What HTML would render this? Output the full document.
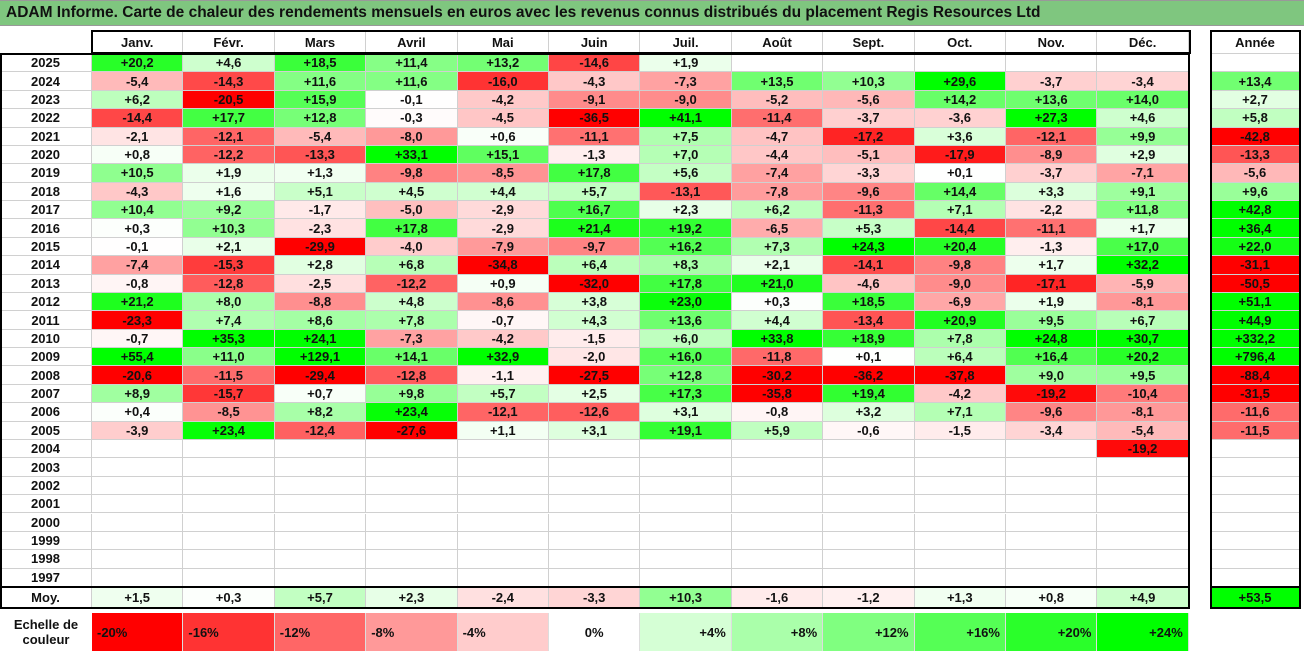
<!DOCTYPE html>
<html><head><meta charset="utf-8"><style>
body{margin:0;width:1304px;height:652px;background:#fff;font-family:"Liberation Sans",sans-serif;overflow:hidden;position:relative}
.c{position:absolute;box-sizing:border-box;font-weight:bold;font-size:13px;color:#111;display:flex;align-items:center;justify-content:center;border-right:1px solid #d0d0d0;border-bottom:1px solid #d0d0d0}
#title{position:absolute;left:0;top:0;width:1304px;height:26px;background:#7fc67f;border-top:1px solid #999;border-bottom:1px solid #999;box-sizing:border-box;font-weight:bold;font-size:15.5px;line-height:24px;padding-left:6px;color:#111}
.box{position:absolute;border:2px solid #000;box-sizing:border-box;pointer-events:none}
</style></head><body>
<div id="title">ADAM Informe. Carte de chaleur des rendements mensuels en euros avec les revenus connus distribués du placement Regis Resources Ltd</div>
<div id="grid"></div>
<script>
const months=["Janv.","Févr.","Mars","Avril","Mai","Juin","Juil.","Août","Sept.","Oct.","Nov.","Déc."];
const years=[2025,2024,2023,2022,2021,2020,2019,2018,2017,2016,2015,2014,2013,2012,2011,2010,2009,2008,2007,2006,2005,2004,2003,2002,2001,2000,1999,1998,1997];
const N=null;
const monthly=[
[20.2,4.6,18.5,11.4,13.2,-14.6,1.9,N,N,N,N,N],
[-5.4,-14.3,11.6,11.6,-16.0,-4.3,-7.3,13.5,10.3,29.6,-3.7,-3.4],
[6.2,-20.5,15.9,-0.1,-4.2,-9.1,-9.0,-5.2,-5.6,14.2,13.6,14.0],
[-14.4,17.7,12.8,-0.3,-4.5,-36.5,41.1,-11.4,-3.7,-3.6,27.3,4.6],
[-2.1,-12.1,-5.4,-8.0,0.6,-11.1,7.5,-4.7,-17.2,3.6,-12.1,9.9],
[0.8,-12.2,-13.3,33.1,15.1,-1.3,7.0,-4.4,-5.1,-17.9,-8.9,2.9],
[10.5,1.9,1.3,-9.8,-8.5,17.8,5.6,-7.4,-3.3,0.1,-3.7,-7.1],
[-4.3,1.6,5.1,4.5,4.4,5.7,-13.1,-7.8,-9.6,14.4,3.3,9.1],
[10.4,9.2,-1.7,-5.0,-2.9,16.7,2.3,6.2,-11.3,7.1,-2.2,11.8],
[0.3,10.3,-2.3,17.8,-2.9,21.4,19.2,-6.5,5.3,-14.4,-11.1,1.7],
[-0.1,2.1,-29.9,-4.0,-7.9,-9.7,16.2,7.3,24.3,20.4,-1.3,17.0],
[-7.4,-15.3,2.8,6.8,-34.8,6.4,8.3,2.1,-14.1,-9.8,1.7,32.2],
[-0.8,-12.8,-2.5,-12.2,0.9,-32.0,17.8,21.0,-4.6,-9.0,-17.1,-5.9],
[21.2,8.0,-8.8,4.8,-8.6,3.8,23.0,0.3,18.5,-6.9,1.9,-8.1],
[-23.3,7.4,8.6,7.8,-0.7,4.3,13.6,4.4,-13.4,20.9,9.5,6.7],
[-0.7,35.3,24.1,-7.3,-4.2,-1.5,6.0,33.8,18.9,7.8,24.8,30.7],
[55.4,11.0,129.1,14.1,32.9,-2.0,16.0,-11.8,0.1,6.4,16.4,20.2],
[-20.6,-11.5,-29.4,-12.8,-1.1,-27.5,12.8,-30.2,-36.2,-37.8,9.0,9.5],
[8.9,-15.7,0.7,9.8,5.7,2.5,17.3,-35.8,19.4,-4.2,-19.2,-10.4],
[0.4,-8.5,8.2,23.4,-12.1,-12.6,3.1,-0.8,3.2,7.1,-9.6,-8.1],
[-3.9,23.4,-12.4,-27.6,1.1,3.1,19.1,5.9,-0.6,-1.5,-3.4,-5.4],
[N,N,N,N,N,N,N,N,N,N,N,-19.2],
[N,N,N,N,N,N,N,N,N,N,N,N],[N,N,N,N,N,N,N,N,N,N,N,N],[N,N,N,N,N,N,N,N,N,N,N,N],
[N,N,N,N,N,N,N,N,N,N,N,N],[N,N,N,N,N,N,N,N,N,N,N,N],[N,N,N,N,N,N,N,N,N,N,N,N],[N,N,N,N,N,N,N,N,N,N,N,N]];
const yearly=[N,13.4,2.7,5.8,-42.8,-13.3,-5.6,9.6,42.8,36.4,22.0,-31.1,-50.5,51.1,44.9,332.2,796.4,-88.4,-31.5,-11.6,-11.5,N,N,N,N,N,N,N,N];
const averages=[1.5,0.3,5.7,2.3,-2.4,-3.3,10.3,-1.6,-1.2,1.3,0.8,4.9];
const avgYear=53.5;
const scaleVals=[-20,-16,-12,-8,-4,0,4,8,12,16,20,24];

const g=document.getElementById('grid');
const X0=92,CW=91.4,TOP=31,HH=23,RH=18.38,YX=1211,YW=89;
const colX=i=>X0+i*CW;
const rowY=r=>TOP+HH+r*RH;
function color(v){
  if(v===null)return '#fff';
  if(v<0){const t=Math.min(-v/20,1);const c=Math.round(255*(1-t));return `rgb(255,${c},${c})`;}
  const t=Math.min(v/24,1);const c=Math.round(255*(1-t));return `rgb(${c},255,${c})`;
}
const fmt=v=>v===null?'':(v>=0?'+':'')+v.toFixed(1).replace('.',',');
function cell(x,y,w,h,txt,bg,name){
  const d=document.createElement('div');d.className='c';
  d.style.cssText+=`left:${x}px;top:${y}px;width:${w}px;height:${h}px;background:${bg}`;
  d.textContent=txt;
  
  
  g.appendChild(d);return d;
}
months.forEach((m,i)=>cell(colX(i),TOP,CW,HH,m,'#fff','month-header'));
cell(YX,TOP,YW,HH,'Année','#fff','year-total-header');
years.forEach((y,r)=>{
  cell(0,rowY(r),X0,RH,String(y),'#fff','year-label');
  monthly[r].forEach((v,i)=>cell(colX(i),rowY(r),CW,RH,fmt(v),color(v),'heatmap-cell'));
  cell(YX,rowY(r),YW,RH,fmt(yearly[r]),color(yearly[r]),'year-total-cell');
});
const MY=rowY(years.length);
cell(0,MY,X0,21,'Moy.','#fff','average-label');
averages.forEach((v,i)=>cell(colX(i),MY,CW,21,fmt(v),color(v),'average-cell'));
cell(YX,MY,YW,21,fmt(avgYear),color(avgYear),'average-year-cell');
const SY=MY+26;
const lab=cell(0,SY,X0,38,'Echelle de\ncouleur','#fff','scale-label');lab.style.whiteSpace='pre';lab.style.textAlign='center';lab.style.border='none';
scaleVals.forEach((v,i)=>{
  const d=cell(colX(i),SY,CW,38,(v>0?'+':'')+v+'%',color(v),'scale-cell');
  d.style.border='none';d.style.borderRight='1px solid #ddd';d.style.padding='0 5px';
  d.style.justifyContent=v<0?'flex-start':(v===0?'center':'flex-end');
});
function box(x,y,w,h,n){const b=document.createElement('div');b.className='box';b.style.cssText+=`left:${x}px;top:${y}px;width:${w}px;height:${h}px`;


g.appendChild(b);}
box(0,TOP+HH-1,colX(12)+1,MY-TOP-HH+23,'table-border');
box(X0-1,TOP-1,colX(12)-X0+3,HH+1,'header-border');
box(0,MY-1,colX(12)+1,23,'average-border');
box(YX-1,TOP-1,YW+2,MY-TOP+23,'year-column-border');
box(YX-1,MY-1,YW+2,23,'year-average-border');
</script>
</body></html>
